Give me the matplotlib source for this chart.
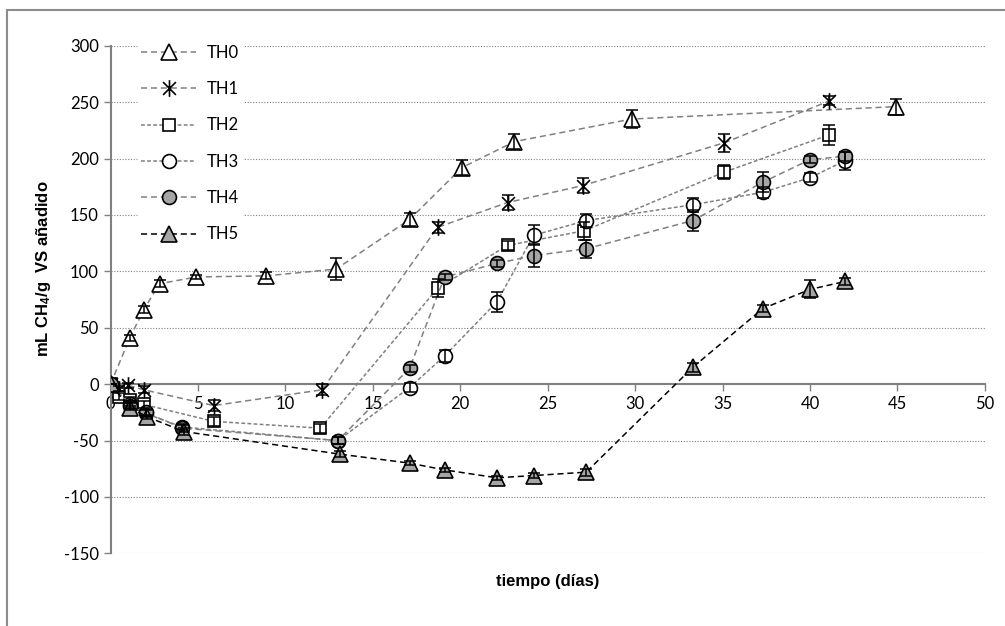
import matplotlib
matplotlib.use("Agg")
import matplotlib.pyplot as plt
from matplotlib.path import Path
from matplotlib.patches import Rectangle

# Datos (tiempo en días, mL CH4/g VS añadido)
t_th0 = [0, 1.1, 1.9, 2.8, 4.9, 8.9, 12.9, 17.1, 20.1, 23.1, 29.8, 44.9]
y_th0 = [0, 41, 66, 89, 95, 96, 102, 146, 192, 215, 235, 246]
e_th0 = [0, 3, 3, 3, 2, 3, 10, 6, 7, 7, 8, 7]

t_th1 = [0, 0.5, 1.0, 1.9, 5.9, 12.1, 18.7, 22.7, 27.0, 35.1, 41.1]
y_th1 = [0, -4, -1, -5, -19, -5, 139, 161, 176, 214, 251]
e_th1 = [0, 2, 2, 3, 5, 5, 5, 7, 7, 8, 4]

t_th2 = [0, 0.5, 1.1, 1.9, 5.9, 12.0, 18.7, 22.7, 27.1, 35.1, 41.1]
y_th2 = [0, -11, -14, -18, -33, -39, 85, 123, 136, 188, 221]
e_th2 = [0, 3, 3, 3, 4, 4, 8, 4, 8, 6, 9]

t_th3 = [0, 1.1, 2.0, 4.1, 13.0, 17.1, 19.1, 22.1, 24.2, 27.2, 33.3, 37.3, 40.0, 42.0]
y_th3 = [0, -18, -26, -38, -50, -3, 25, 73, 132, 145, 159, 170, 183, 198]
e_th3 = [0, 3, 3, 3, 3, 4, 5, 9, 9, 6, 6, 5, 4, 8]

t_th4 = [0, 1.1, 2.0, 4.1, 13.0, 17.1, 19.1, 22.1, 24.2, 27.2, 33.3, 37.3, 40.0, 42.0]
y_th4 = [0, -19, -25, -39, -50, 14, 95, 107, 114, 120, 145, 179, 199, 202]
e_th4 = [0, 3, 3, 3, 3, 3, 3, 3, 10, 8, 9, 9, 3, 4]

t_th5 = [0, 1.1, 2.1, 4.2, 13.1, 17.1, 19.1, 22.1, 24.2, 27.2, 33.3, 37.3, 40.0, 42.0]
y_th5 = [0, -21, -29, -42, -62, -70, -76, -83, -81, -78, 15, 67, 84, 91]
e_th5 = [0, 2, 2, 3, 3, 2, 2, 2, 2, 3, 4, 3, 8, 3]

plt.rcParams['font.family'] = ['Lato', 'DejaVu Sans']
plt.rcParams['axes.unicode_minus'] = False
plt.rcParams['mathtext.fontset'] = 'custom'
plt.rcParams['mathtext.rm'] = 'Liberation Sans:bold'
plt.rcParams['mathtext.it'] = 'Liberation Sans:italic:bold'

fig = plt.figure(figsize=(10.05, 6.26), dpi=100)
ax = fig.add_axes([0.110, 0.116, 0.870, 0.811])

# marcador tipo Excel: una X con barra vertical
star = Path([(-1, -1), (1, 1), (-1, 1), (1, -1), (0, -1.3), (0, 1.3)],
            [Path.MOVETO, Path.LINETO, Path.MOVETO, Path.LINETO, Path.MOVETO, Path.LINETO])

gris = '#808080'
series = [
    ('TH0', t_th0, y_th0, e_th0, dict(marker='^', ms=12, mfc='white', color=gris, dashes=(4, 2.5))),
    ('TH1', t_th1, y_th1, e_th1, dict(marker=star, ms=12, mfc='none', color=gris, dashes=(4, 2.5))),
    ('TH2', t_th2, y_th2, e_th2, dict(marker='s', ms=9, mfc='white', color=gris, dashes=(2.5, 1.5))),
    ('TH3', t_th3, y_th3, e_th3, dict(marker='o', ms=10, mfc='white', color=gris, dashes=(2.5, 1.5))),
    ('TH4', t_th4, y_th4, e_th4, dict(marker='o', ms=10, mfc='#a6a6a6', color=gris, dashes=(4, 2.5))),
    ('TH5', t_th5, y_th5, e_th5, dict(marker='^', ms=12, mfc='#a6a6a6', color='black', dashes=(4, 2.5))),
]

for nombre, t, y, e, st in series:
    ax.plot(t, y, label=nombre, lw=1.1, mec='black', mew=1.2, zorder=3, **st)
    ax.errorbar(t, y, yerr=e, fmt='none', ecolor='black', elinewidth=1.1,
                capsize=4, capthick=1.1, zorder=4)

ax.set_xlim(0, 50)
ax.set_ylim(-150, 300)
ax.set_xticks(range(0, 51, 5))
ax.set_yticks(range(-150, 301, 50))

ax.grid(axis='y', linestyle=(0, (1, 1.5)), color=gris, lw=0.8)
ax.set_axisbelow(True)

for s in ['top', 'right']:
    ax.spines[s].set_visible(False)
ax.spines['bottom'].set_position(('data', 0))
for s in ['left', 'bottom']:
    ax.spines[s].set_color(gris)
    ax.spines[s].set_linewidth(1.5)
ax.tick_params(axis='both', direction='out', length=5, width=1, color=gris,
               labelsize=12, labelcolor='black')

ax.set_xlabel('tiempo (días)', family='Liberation Sans', fontweight='bold', fontsize=12)
ax.xaxis.set_label_coords(0.5, -0.04)
ax.set_ylabel('mL CH$_4$/g  VS añadido', family='Liberation Sans',
              fontweight='bold', fontsize=12)
ax.yaxis.set_label_coords(-0.066, 0.56)

leg = ax.legend(loc='upper left', bbox_to_anchor=(0.022, 1.025), frameon=True,
                fontsize=12, handlelength=3.3, labelspacing=1.22, borderpad=0.2,
                handletextpad=0.6)
leg.get_frame().set_edgecolor('white')
leg.get_frame().set_facecolor('white')
leg.get_frame().set_alpha(1)

# marco del área del gráfico
fig.patches.append(Rectangle((0.007, -0.1), 1.1, 1.084, transform=fig.transFigure,
                             fill=False, edgecolor='#8c8c8c', lw=1.5))

fig.savefig('out.png', dpi=100)
